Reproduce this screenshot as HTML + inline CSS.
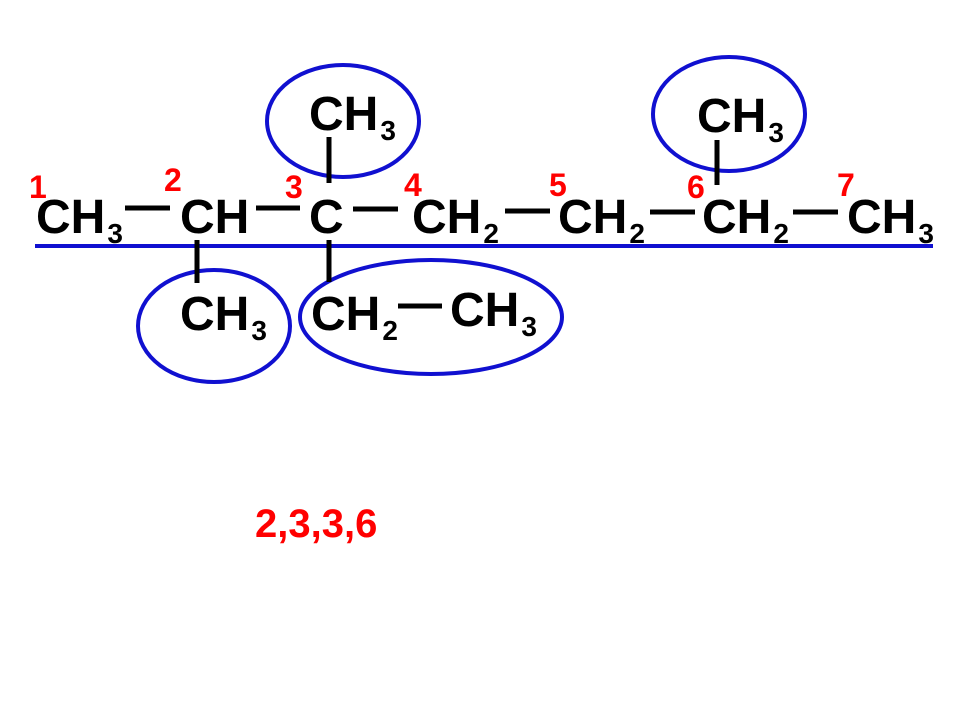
<!DOCTYPE html>
<html><head><meta charset="utf-8"><style>html,body{margin:0;padding:0;background:#fff}svg{display:block}</style></head>
<body>
<svg width="960" height="720" viewBox="0 0 960 720" xmlns="http://www.w3.org/2000/svg" font-family="Liberation Sans, sans-serif" font-weight="bold">
<rect width="960" height="720" fill="#fff"/>
<g fill="none" stroke="#1010d0" stroke-width="4">
<ellipse cx="343" cy="121" rx="76" ry="56"/>
<ellipse cx="729" cy="114" rx="76" ry="57"/>
<ellipse cx="214" cy="326" rx="76" ry="56"/>
<ellipse cx="431" cy="317" rx="131" ry="57"/>
</g>
<line x1="35" y1="246" x2="933" y2="246" stroke="#1010d0" stroke-width="4"/>
<g stroke="#000" stroke-width="5">
<line x1="125" y1="208" x2="170" y2="208"/>
<line x1="256" y1="208" x2="300" y2="208"/>
<line x1="353" y1="209" x2="398" y2="209"/>
<line x1="505" y1="211" x2="550" y2="211"/>
<line x1="650" y1="212" x2="695" y2="212"/>
<line x1="793" y1="212" x2="838" y2="212"/>
<line x1="329" y1="137" x2="329" y2="183"/>
<line x1="717" y1="140" x2="717" y2="185"/>
<line x1="197" y1="240" x2="197" y2="283"/>
<line x1="329" y1="240" x2="329" y2="282"/>
<line x1="398" y1="306" x2="442" y2="306"/>
</g>
<g fill="#000" font-size="48">
<text x="36" y="233">CH<tspan font-size="28" dx="2" dy="10">3</tspan></text>
<text x="180" y="233">CH</text>
<text x="309" y="233">C</text>
<text x="412" y="233">CH<tspan font-size="28" dx="2" dy="10">2</tspan></text>
<text x="558" y="233">CH<tspan font-size="28" dx="2" dy="10">2</tspan></text>
<text x="702" y="233">CH<tspan font-size="28" dx="2" dy="10">2</tspan></text>
<text x="847" y="233">CH<tspan font-size="28" dx="2" dy="10">3</tspan></text>
<text x="309" y="130">CH<tspan font-size="28" dx="2" dy="10">3</tspan></text>
<text x="697" y="132">CH<tspan font-size="28" dx="2" dy="10">3</tspan></text>
<text x="180" y="330">CH<tspan font-size="28" dx="2" dy="10">3</tspan></text>
<text x="311" y="330">CH<tspan font-size="28" dx="2" dy="10">2</tspan></text>
<text x="450" y="326">CH<tspan font-size="28" dx="2" dy="10">3</tspan></text>
</g>
<g fill="#f00" font-size="32">
<text x="29" y="198">1</text>
<text x="164" y="191">2</text>
<text x="285" y="198">3</text>
<text x="404" y="196">4</text>
<text x="549" y="196">5</text>
<text x="687" y="198">6</text>
<text x="837" y="196">7</text>
<text x="255" y="537" font-size="40">2,3,3,6</text>
</g>
</svg>
</body></html>
